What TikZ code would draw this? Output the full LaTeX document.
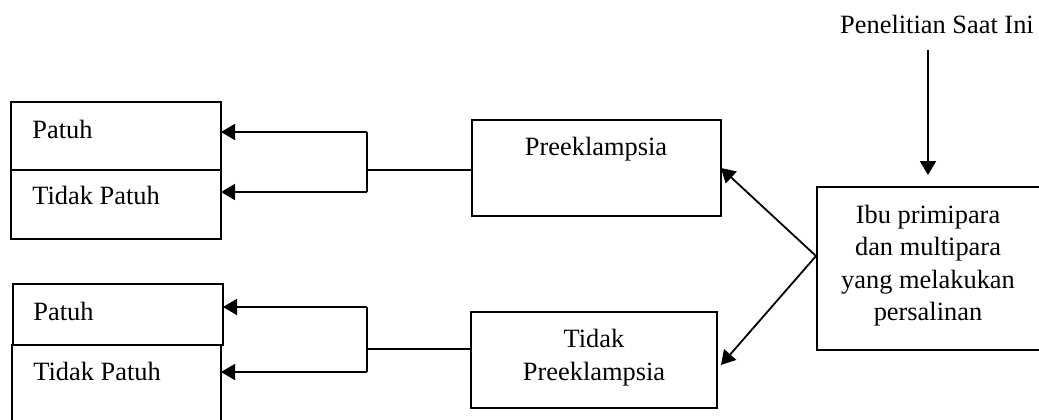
\documentclass[tikz,border=0pt]{standalone}
\usepackage{fontspec}
\setmainfont{Liberation Serif}
\usetikzlibrary{arrows.meta}
\begin{document}
\begin{tikzpicture}[x=0.5pt,y=-0.5pt,
  box/.style={draw, line width=0.6pt, inner sep=0pt, outer sep=0pt, anchor=north west},
  lbl/.style={inner sep=0pt, font=\fontsize{13.2pt}{16.25pt}\selectfont},
  conn/.style={line width=0.6pt},
  arr/.style={line width=0.9pt, -{Triangle[length=7pt,width=8pt]}},
  ]
\useasboundingbox (0,0) rectangle (1039,419);
% boxes
\node[box, minimum width=105pt, minimum height=34pt] (patuh1) at (11,102) {};
\node[box, minimum width=105pt, minimum height=34.5pt] (tidak1) at (11,170) {};
\node[box, minimum width=105pt, minimum height=30.5pt] (patuh2) at (13,284) {};
\node[box, minimum width=104.5pt, minimum height=42.5pt] (tidak2) at (12,345) {};
\node[box, minimum width=124.5pt, minimum height=48pt] (pre) at (472,120) {};
\node[box, minimum width=123pt, minimum height=48pt] (tpre) at (471,312) {};
\node[box, line width=1pt, minimum width=112pt, minimum height=81.5pt] (ibu) at (817,187) {};
% texts
\node[lbl, anchor=base west] (tp1) at (32,138) {Patuh};
\node[lbl, anchor=base west] (tt1) at (32,204) {Tidak Patuh};
\node[lbl, anchor=base west] (tp2) at (33,320) {Patuh};
\node[lbl, anchor=base west] (tt2) at (33,380) {Tidak Patuh};
\node[lbl, anchor=base] (tpre1) at (596,155) {Preeklampsia};
\node[lbl, anchor=base, align=center] (ttpre) at (594,380) {Tidak\\Preeklampsia};
\node[lbl, anchor=base, align=center] (tibu) at (928,320.5) {Ibu primipara\\dan multipara\\yang melakukan\\persalinan};
\node[lbl, anchor=base] (pen) at (937,33) {Penelitian Saat Ini};
% coordinates
\coordinate (j1) at (367,170);
\coordinate (a1) at (367,132);
\coordinate (b1) at (367,192);
\coordinate (j2) at (367,349);
\coordinate (a2) at (367,307);
\coordinate (b2) at (367,372);
\coordinate (o) at (816,256);
\coordinate (t2) at (721,365);
\coordinate (v1) at (928,50);
\coordinate (v2) at (928,175);
% connectors
\draw[conn] (j1) -- (j1 -| pre.west);
\draw[conn] (a1) -- (b1);
\draw[arr] (a1) -- (a1 -| patuh1.east);
\draw[arr] (b1) -- (b1 -| tidak1.east);
\draw[conn] (j2) -- (j2 -| tpre.west);
\draw[conn] (a2) -- (b2);
\draw[arr] (a2) -- (a2 -| patuh2.east);
\draw[arr] (b2) -- (b2 -| tidak2.east);
\draw[arr] (o) -- (pre.east);
\draw[arr] (o) -- (t2);
\draw[arr] (v1) -- (v2);
\end{tikzpicture}
\end{document}
